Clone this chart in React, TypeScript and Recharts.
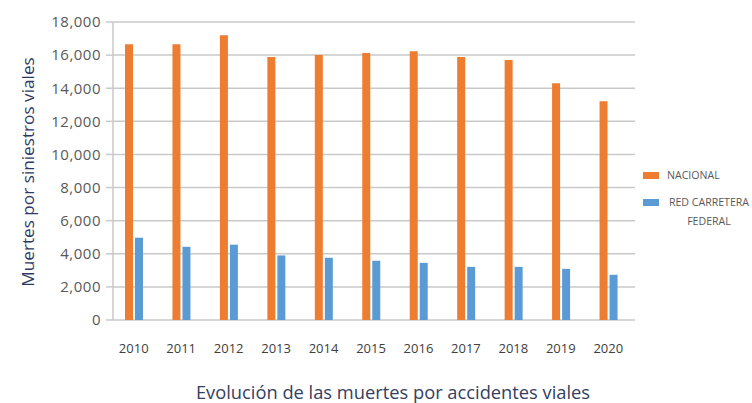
import React from "react";
import { BarChart, Bar, XAxis, YAxis, CartesianGrid, Legend } from "recharts";

const years = ["2010", "2011", "2012", "2013", "2014", "2015", "2016", "2017", "2018", "2019", "2020"];
const nacional = [16650, 16650, 17200, 15880, 16000, 16120, 16240, 15880, 15700, 14300, 13210];
const federal = [4970, 4420, 4550, 3900, 3760, 3580, 3450, 3210, 3210, 3090, 2730];
const yTicks = [0, 2000, 4000, 6000, 8000, 10000, 12000, 14000, 16000, 18000];

const seriesNames = { nacional: "NACIONAL", federal: "RED CARRETERA FEDERAL" };
const colors = { nacional: "#ED7D31", federal: "#5B9BD5" };

const data = years.map((y, i) => ({ year: y, nacional: nacional[i], federal: federal[i] }));

const FONT = "'Open Sans', sans-serif";

const LegendContent = () => (
  <div style={{ fontFamily: FONT, fontSize: 10.6, color: "#595959", width: 108, whiteSpace: "nowrap" }}>
    <div style={{ display: "flex", alignItems: "center", height: 14 }}>
      <span style={{ display: "inline-block", width: 16, height: 7, background: colors.nacional, marginRight: 8 }} />
      <span>{seriesNames.nacional}</span>
    </div>
    <div style={{ display: "flex", alignItems: "flex-start", marginTop: 14 }}>
      <span style={{ display: "inline-block", width: 16, height: 7, background: colors.federal, marginRight: 8, marginTop: 3 }} />
      <span style={{ display: "inline-block", width: 84, textAlign: "center", lineHeight: "19px", marginTop: -3, whiteSpace: "normal" }}>
        RED CARRETERA FEDERAL
      </span>
    </div>
  </div>
);

export default function App() {
  return (
    <div style={{ position: "absolute", left: 0, top: 0, width: 752, height: 403, background: "#fff", overflow: "hidden" }}>
      <BarChart
        width={752}
        height={403}
        data={data}
        margin={{ top: 22, right: 117, bottom: 0, left: 0 }}
        barSize={8}
        barGap={2}
      >
        <CartesianGrid horizontal vertical={false} stroke="#c9c9c9" strokeWidth={1.5} />
        <XAxis
          dataKey="year"
          height={83}
          axisLine={false}
          tickLine={false}
          tickSize={6}
          tickMargin={18}
          padding={{ left: -3, right: 3 }}
          tick={{ fill: "#404040", fontSize: 13, fontFamily: FONT }}
          interval={0}
        />
        <YAxis
          width={113}
          domain={[0, 18000]}
          ticks={yTicks}
          interval={0}
          tickFormatter={(v: number) => v.toLocaleString("en-US")}
          axisLine={{ stroke: "#c9c9c9", strokeWidth: 1.5 }}
          tickLine={{ stroke: "#c9c9c9", strokeWidth: 1.5 }}
          tickSize={7}
          tickMargin={5}
          tick={{ fill: "#595959", fontSize: 15, fontFamily: FONT, letterSpacing: 0.5 }}
        />
        <Legend
          layout="horizontal"
          align="center"
          verticalAlign="middle"
          content={<LegendContent />}
          wrapperStyle={{ position: "absolute", left: 643, top: 168, width: 108 }}
        />
        <Bar dataKey="nacional" name={seriesNames.nacional} fill={colors.nacional} isAnimationActive={false} />
        <Bar dataKey="federal" name={seriesNames.federal} fill={colors.federal} isAnimationActive={false} />
      </BarChart>
      <div
        style={{
          position: "absolute",
          left: 28,
          top: 172,
          transform: "translate(-50%, -50%) rotate(-90deg)",
          whiteSpace: "nowrap",
          fontFamily: FONT,
          fontSize: 17.2,
          lineHeight: "20px",
          color: "#2d3a64",
        }}
      >
        Muertes por siniestros viales
      </div>
      <div
        style={{
          position: "absolute",
          left: 393,
          top: 392,
          transform: "translate(-50%, -50%)",
          whiteSpace: "nowrap",
          fontFamily: FONT,
          fontSize: 18.3,
          lineHeight: "20px",
          color: "#34405f",
        }}
      >
        Evolución de las muertes por accidentes viales
      </div>
    </div>
  );
}
